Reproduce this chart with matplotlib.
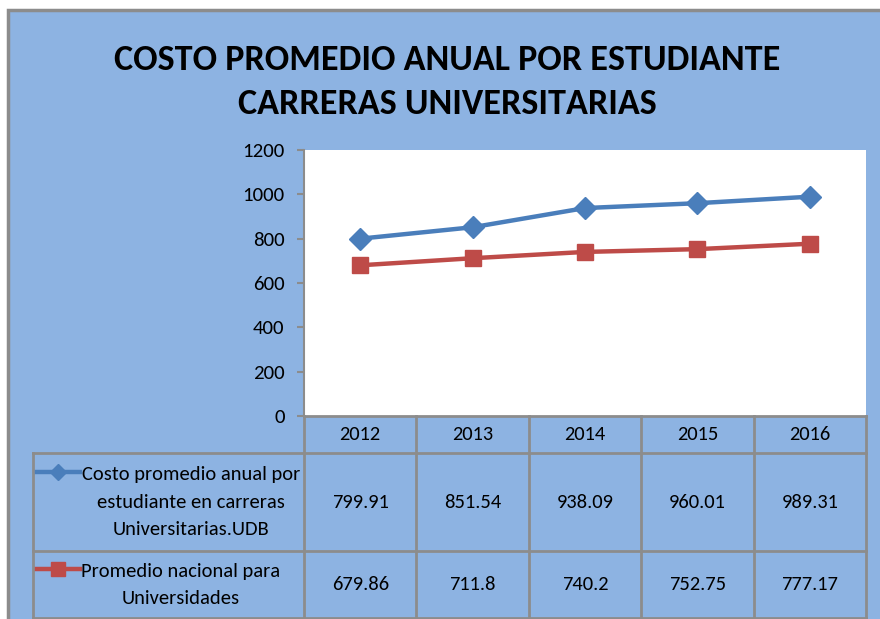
import matplotlib
matplotlib.use("Agg")
import matplotlib.pyplot as plt
from matplotlib.lines import Line2D
from matplotlib.patches import Rectangle

plt.rcParams['font.family'] = ['Carlito', 'Liberation Sans Narrow', 'DejaVu Sans']

years = ["2012", "2013", "2014", "2015", "2016"]
udb = [799.91, 851.54, 938.09, 960.01, 989.31]
nacional = [679.86, 711.8, 740.2, 752.75, 777.17]
udb_label = "Costo promedio anual por\nestudiante en carreras\nUniversitarias.UDB"
nac_label = "Promedio nacional para\nUniversidades"
udb_text = ["799.91", "851.54", "938.09", "960.01", "989.31"]
nac_text = ["679.86", "711.8", "740.2", "752.75", "777.17"]
title = "COSTO PROMEDIO ANUAL POR ESTUDIANTE\nCARRERAS UNIVERSITARIAS"

W, H = 880, 619
BG = "#8DB3E2"
GRID = "#8C8C8C"
BLUE = "#4A7EBB"
RED = "#BE4B48"

fig = plt.figure(figsize=(W / 100, H / 100), dpi=100)
fig.patch.set_facecolor("white")

def fx(x):
    return x / W

def fy(y):
    return 1 - y / H

# chart background frame
fig.add_artist(Rectangle((fx(8), -0.01), 1.01 - fx(8), fy(10) + 0.01, transform=fig.transFigure,
                         facecolor=BG, edgecolor=GRID, linewidth=2.5, zorder=-10))

# plot area
L, R, T, B = 304, 866, 150, 416
ax = fig.add_axes([fx(L), fy(B), fx(R) - fx(L), fy(T) - fy(B)])
ax.set_zorder(1)
ax.set_facecolor("white")
x = list(range(len(years)))
ax.plot(x, udb, color=BLUE, lw=3.2, marker="D", ms=11, mec=BLUE, mfc=BLUE, zorder=3)
ax.plot(x, nacional, color=RED, lw=3.2, marker="s", ms=12, mec=RED, mfc=RED, zorder=3)
ax.set_xlim(-0.5, len(years) - 0.5)
ax.set_ylim(0, 1200)
ax.set_yticks(range(0, 1201, 200))
ax.set_xticks([])
for s in ["top", "right", "bottom"]:
    ax.spines[s].set_visible(False)
ax.spines["left"].set_color(GRID)
ax.spines["left"].set_linewidth(1.5)
ax.tick_params(axis="y", colors=GRID, length=5, width=1.5, labelsize=15, labelcolor="black", pad=9)

# title
fig.text(fx(447), fy(82), title, ha="center", va="center", fontsize=26, fontweight="bold",
         linespacing=1.45, color="black")

# table
colw = (R - L) / len(years)
row_y = [B, 453, 551, 618]
lab_left = 33

def hline(y, x0, x1):
    fig.add_artist(Line2D([fx(x0), fx(x1)], [fy(y), fy(y)], transform=fig.transFigure,
                          color=GRID, lw=2, zorder=2))

def vline(x0, y0, y1):
    fig.add_artist(Line2D([fx(x0), fx(x0)], [fy(y0), fy(y1)], transform=fig.transFigure,
                          color=GRID, lw=2, zorder=2))

hline(B, L, R)
for y in row_y[1:]:
    hline(y, lab_left, R)
for i in range(len(years) + 1):
    vline(L + i * colw, B, row_y[-1])
vline(lab_left, row_y[1], row_y[-1])

FS = 14.8
for i, yr in enumerate(years):
    cx = L + (i + 0.5) * colw
    fig.text(fx(cx), fy((row_y[0] + row_y[1]) / 2), yr, ha="center", va="center", fontsize=FS)
    fig.text(fx(cx), fy((row_y[1] + row_y[2]) / 2), udb_text[i], ha="center", va="center", fontsize=FS)
    fig.text(fx(cx), fy((row_y[2] + row_y[3]) / 2), nac_text[i], ha="center", va="center", fontsize=FS)

# legend keys
fig.add_artist(Line2D([fx(37), fx(80)], [fy(472), fy(472)], transform=fig.transFigure,
                      color=BLUE, lw=3.2, zorder=3))
fig.add_artist(Line2D([fx(58)], [fy(472)], transform=fig.transFigure, color=BLUE,
                      marker="D", ms=8, mfc=BLUE, mec=BLUE, zorder=3))
fig.add_artist(Line2D([fx(37), fx(80)], [fy(569), fy(569)], transform=fig.transFigure,
                      color=RED, lw=3.2, zorder=3))
fig.add_artist(Line2D([fx(58)], [fy(569)], transform=fig.transFigure, color=RED,
                      marker="s", ms=10, mfc=RED, mec=RED, zorder=3))

fig.text(fx(191), fy(502), udb_label, ha="center", va="center", fontsize=FS, linespacing=1.72)
fig.text(fx(181), fy(585), nac_label, ha="center", va="center", fontsize=FS, linespacing=1.72)

fig.savefig("out.png", dpi=100, facecolor=fig.get_facecolor())
